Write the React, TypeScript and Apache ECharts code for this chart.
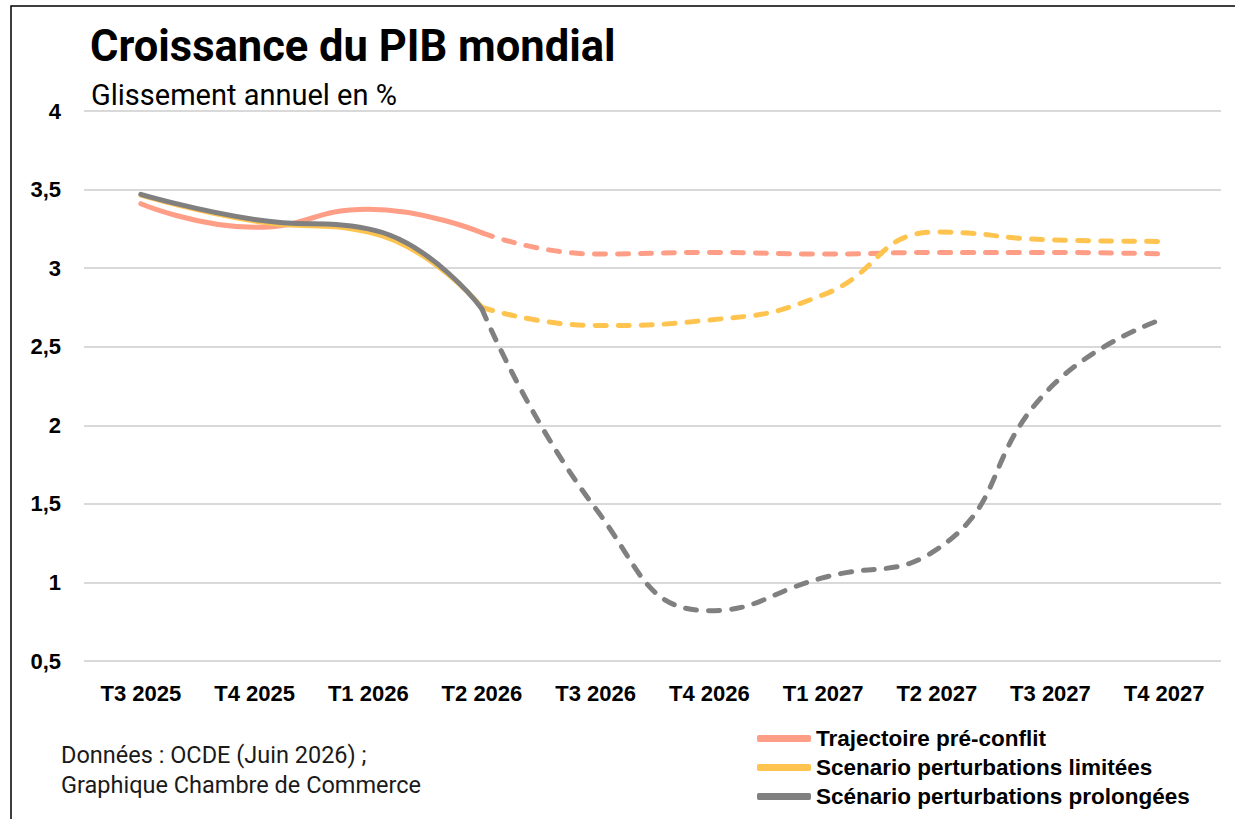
import React, { useEffect, useRef } from "react";
import * as echarts from "echarts";

const categories = ["T3 2025", "T4 2025", "T1 2026", "T2 2026", "T3 2026", "T4 2026", "T1 2027", "T2 2027", "T3 2027", "T4 2027"];
const seriesNames = ["Trajectoire pré-conflit", "Scenario perturbations limitées", "Scénario perturbations prolongées"];
// observed (solid) part: T3 2025 .. T2 2026 ; projection (dashed): T2 2026 .. T4 2027
const preConflit = [3.41, 3.26, 3.375, 3.225, 3.09, 3.10, 3.09, 3.10, 3.10, 3.09];
const limitees = [3.465, 3.30, 3.23, 2.75, 2.635, 2.67, 2.83, 3.23, 3.18, 3.17];
const prolongees = [3.47, 3.31, 3.25, 2.74, 1.47, 0.82, 1.03, 1.21, 2.24, 2.68];
const lastObserved = 3; // index of T2 2026
const yTicks = { min: 0.5, max: 4, interval: 0.5 };
const titleText = "Croissance du PIB mondial";
const subtitleText = "Glissement annuel en %";
const sourceLines = ["Données : OCDE (Juin 2026) ;", "Graphique Chambre de Commerce"];

const colors = ["#FF9E86", "#FFC44F", "#808080"];

function solidPart(arr: number[]) {
  return arr.map((v, i) => (i <= lastObserved ? v : "-"));
}
function dashedPart(arr: number[]) {
  return arr.map((v, i) => (i >= lastObserved ? v : "-"));
}

export default function App() {
  const ref = useRef<HTMLDivElement>(null);
  useEffect(() => {
    if (!ref.current) return;
    const chart = echarts.init(ref.current, null, { renderer: "svg" });
    const all = [preConflit, limitees, prolongees];
    const series: any[] = [];
    all.forEach((arr, k) => {
      series.push({
        name: seriesNames[k] + " (projection)",
        type: "line",
        data: dashedPart(arr),
        smooth: 0.5,
        symbol: "none",
        z: 2 + k,
        lineStyle: { color: colors[k], width: 5, type: [11, 12], cap: "round" },
        itemStyle: { color: colors[k] },
      });
      series.push({
        name: seriesNames[k],
        type: "line",
        data: solidPart(arr),
        smooth: 0.5,
        symbol: "none",
        z: 2 + k,
        lineStyle: { color: colors[k], width: 5, cap: "round" },
        itemStyle: { color: colors[k] },
      });
    });
    chart.setOption({
      animation: false,
      backgroundColor: "#ffffff",
      grid: { left: 84, right: 14, top: 111, bottom: 158, containLabel: false },
      xAxis: {
        type: "category",
        data: categories,
        boundaryGap: true,
        axisLine: { show: false },
        axisTick: { show: false },
        axisLabel: {
          margin: 21,
          color: "#000",
          fontFamily: "Liberation Sans",
          fontWeight: "bold",
          fontSize: 22,
        },
      },
      yAxis: {
        type: "value",
        min: yTicks.min,
        max: yTicks.max,
        interval: yTicks.interval,
        axisLine: { show: false },
        axisTick: { show: false },
        splitLine: { lineStyle: { color: "#D9D9D9", width: 2 } },
        axisLabel: {
          margin: 23,
          color: "#000",
          fontFamily: "Liberation Sans",
          fontWeight: "bold",
          fontSize: 22,
          formatter: (v: number) => String(v).replace(".", ","),
        },
      },
      legend: {
        data: seriesNames,
        orient: "vertical",
        left: 752,
        top: 722,
        itemGap: 6,
        itemWidth: 54,
        itemHeight: 7,
        icon: "roundRect",
        textStyle: { color: "#000", fontFamily: "Liberation Sans", fontWeight: "bold", fontSize: 22.5 },
      },
      graphic: [
        {
          type: "rect",
          shape: { x: 11, y: 6, width: 1400, height: 1000 },
          style: { fill: "none", stroke: "#000", lineWidth: 1.5 },
          silent: true,
          z: 10,
        },
        {
          type: "text",
          x: 90,
          y: 46,
          style: { text: titleText, fill: "#000", font: "bold 43.5px Roboto", textVerticalAlign: "middle" },
        },
        {
          type: "text",
          x: 91,
          y: 95,
          style: { text: subtitleText, fill: "#000", font: "29px Roboto", textVerticalAlign: "middle" },
        },
        {
          type: "text",
          x: 61,
          y: 755,
          style: { text: sourceLines[0], fill: "#1a1a1a", font: "23.5px Roboto", textVerticalAlign: "middle" },
        },
        {
          type: "text",
          x: 61,
          y: 785,
          style: { text: sourceLines[1], fill: "#1a1a1a", font: "23.5px Roboto", textVerticalAlign: "middle" },
        },
      ],
      series,
    });
    return () => chart.dispose();
  }, []);
  return <div ref={ref} style={{ position: "fixed", left: 0, top: 0, width: 1235, height: 819 }} />;
}
